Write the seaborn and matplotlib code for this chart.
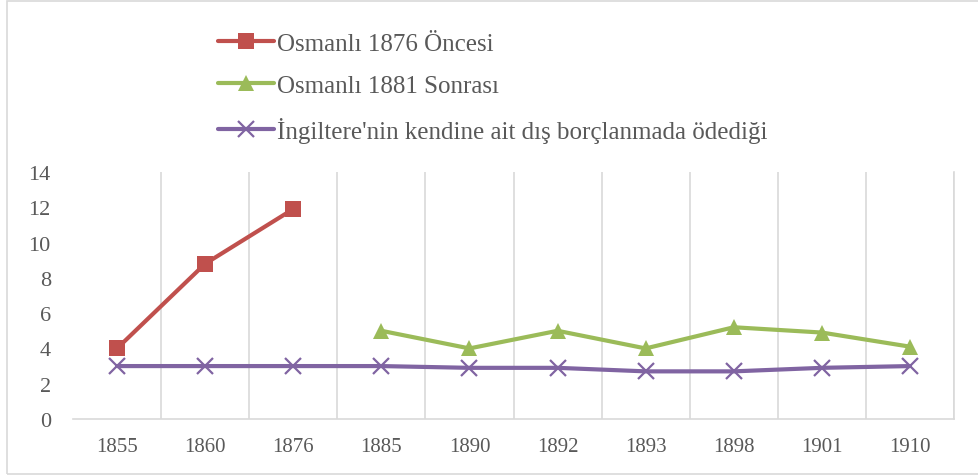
import matplotlib
matplotlib.use("Agg")
import matplotlib.pyplot as plt
import seaborn as sns
import numpy as np
import pandas as pd
from matplotlib.patches import Rectangle

years = ["1855", "1860", "1876", "1885", "1890", "1892", "1893", "1898", "1901", "1910"]
osmanli_1876_oncesi = [4.0, 8.8, 11.9, None, None, None, None, None, None, None]
osmanli_1881_sonrasi = [None, None, None, 5.0, 4.0, 5.0, 4.0, 5.2, 4.9, 4.1]
ingiltere = [3.0, 3.0, 3.0, 3.0, 2.9, 2.9, 2.7, 2.7, 2.9, 3.0]
series_names = ["Osmanlı 1876 Öncesi", "Osmanlı 1881 Sonrası",
                "İngiltere'nin kendine ait dış borçlanmada ödediği"]
y_ticks = [0, 2, 4, 6, 8, 10, 12, 14]

sns.set_theme(style="white")
plt.rcParams["font.family"] = ["Liberation Serif", "DejaVu Serif"]

rows = []
for name, vals in zip(series_names, [osmanli_1876_oncesi, osmanli_1881_sonrasi, ingiltere]):
    for i, v in enumerate(vals):
        if v is not None:
            rows.append({"pos": i, "value": v, "series": name})
df = pd.DataFrame(rows)

fig = plt.figure(figsize=(9.79, 4.77), dpi=100)
ax = fig.add_axes([73 / 979, 1 - 420 / 477, (954 - 73) / 979, (420 - 173) / 477])

colors = ["#C0504D", "#9BBB59", "#8064A2"]
markers = ["s", "^", "x"]
msizes = [13, 15, 14]
for name, c, m, ms in zip(series_names, colors, markers, msizes):
    sub = df[df["series"] == name]
    kw = dict(markeredgewidth=1.6, markeredgecolor=c) if m == "x" else dict(markeredgewidth=0)
    sns.lineplot(data=sub, x="pos", y="value", ax=ax, color=c, marker=m,
                 markersize=ms, linewidth=3, linestyle="-", label=name, **kw)

ax.set_xlim(-0.5, len(years) - 0.5)
ax.set_ylim(0, 14)
ax.set_yticks(y_ticks)
ax.set_xticks(range(len(years)))
ax.set_xticklabels(years)
ax.tick_params(axis="both", length=0, labelcolor="#595959")
ax.tick_params(axis="x", labelsize=15, pad=13)
ax.tick_params(axis="y", labelsize=16, pad=16)
ax.set_xlabel("")
ax.set_ylabel("")

for b in np.arange(0.5, len(years), 1.0):
    ax.axvline(b, color="#d9d9d9", linewidth=1.2, zorder=0)
for s in ["top", "left"]:
    ax.spines[s].set_visible(False)
ax.spines["right"].set_color("#d9d9d9")
ax.spines["right"].set_linewidth(1.2)
ax.spines["bottom"].set_color("#d9d9d9")
ax.spines["bottom"].set_linewidth(1.2)

handles, labels = ax.get_legend_handles_labels()
for h, ms in zip(handles, [11, 12, 12]):
    h.set_markersize(ms)
leg = fig.legend(handles, labels, loc="upper left", bbox_to_anchor=(206 / 979, 1 - 21 / 477),
                 frameon=False, fontsize=18, handlelength=2.2, handletextpad=0.15,
                 labelspacing=0.78, borderpad=0, labelcolor="#595959")
ax.get_legend().remove()

fig.patches.append(Rectangle((7 / 979, 2 / 477), 1.0, 473 / 477, transform=fig.transFigure,
                             fill=False, edgecolor="#d9d9d9", linewidth=1.2))

fig.savefig("out.png", dpi=100)
